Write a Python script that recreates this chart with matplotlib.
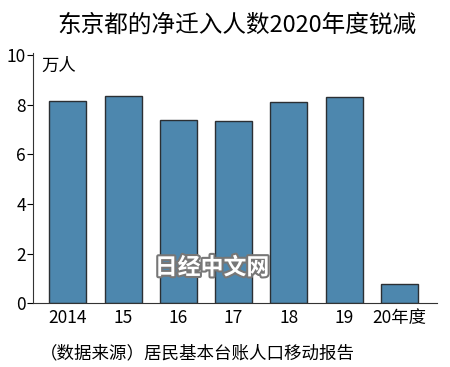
import matplotlib
matplotlib.use('Agg')
import matplotlib.pyplot as plt
import matplotlib.patheffects as pe

plt.rcParams['font.family'] = ['Noto Sans CJK SC', 'DejaVu Sans']

# 数据
years = ['2014', '15', '16', '17', '18', '19', '20年度']
net_inflow = [8.17, 8.36, 7.38, 7.34, 8.10, 8.30, 0.76]  # 万人
y_ticks = [0, 2, 4, 6, 8, 10]

fig = plt.figure(figsize=(4.5, 3.67), dpi=100)
ax = fig.add_axes([0.0733, 0.174, 0.898, 0.682])

x = range(len(years))
ax.bar(x, net_inflow, width=0.67, color='#4d87ae', edgecolor='#2b2f33', linewidth=1.0)

ax.set_xlim(-0.63, 6.68)
ax.set_ylim(0, 10.1)
ax.set_yticks(y_ticks)
ax.set_yticklabels([str(v) for v in y_ticks], fontsize=12.5)
ax.set_xticks(list(x))
ax.set_xticklabels(years, fontsize=12.5)
ax.tick_params(axis='x', length=0, pad=4)
ax.tick_params(axis='y', length=4, pad=1, direction='out')

for side in ['top', 'right']:
    ax.spines[side].set_visible(False)
for side in ['left', 'bottom']:
    ax.spines[side].set_color('#333333')

ax.text(0.02, 0.985, '万人', transform=ax.transAxes, fontsize=12.5, va='top', ha='left')

fig.text(0.527, 0.932, '东京都的净迁入人数2020年度锐减', fontsize=17, ha='center', va='center')
fig.text(0.088, 0.038, '（数据来源）居民基本台账人口移动报告', fontsize=12.6, ha='left', va='center')

# 水印
fig.text(0.471, 0.27, '日经中文网', fontsize=16.5, fontweight='bold', color='white',
         ha='center', va='center',
         path_effects=[pe.withStroke(linewidth=3, foreground='#777777')])

fig.savefig('out.png', dpi=100)
